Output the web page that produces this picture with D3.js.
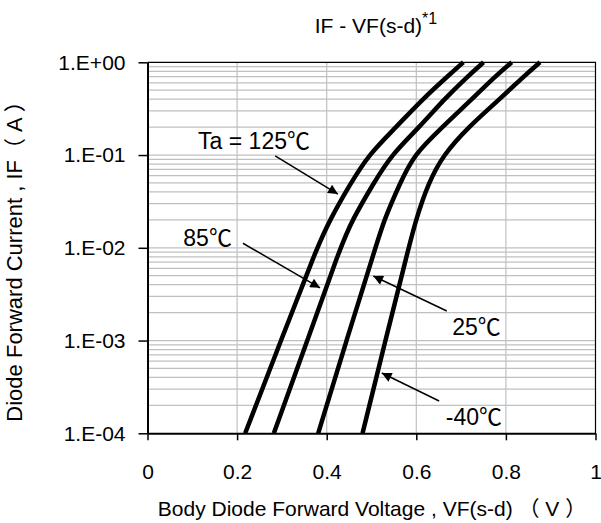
<!DOCTYPE html>
<html>
<head>
<meta charset="utf-8">
<script src="https://cdn.jsdelivr.net/npm/d3@7"></script>
<style>
  body { margin: 0; background: #fff; }
  svg text { font-family: "Liberation Sans", Arial, "Noto Sans CJK JP", sans-serif; fill: #000; }
</style>
</head>
<body>
<svg id="chart" width="601" height="523"></svg>
<script>
// forward current levels (A) shared by all curves
const currents = [1e-4, 1e-3, 1e-2, 0.02, 0.05, 0.1, 0.2, 0.4, 0.7, 1];

// forward voltage (V) at each current level, per temperature
const vf125 = [0.218, 0.298, 0.378, 0.407, 0.454, 0.493, 0.555, 0.614, 0.669, 0.705];
const vf85 = [0.282, 0.357, 0.430, 0.457, 0.505, 0.544, 0.607, 0.662, 0.714, 0.750];
const vf25 = [0.381, 0.444, 0.509, 0.528, 0.564, 0.594, 0.658, 0.724, 0.775, 0.813];
const vfm40 = [0.480, 0.531, 0.583, 0.599, 0.627, 0.660, 0.716, 0.786, 0.839, 0.876];

const xTicks = [0, 0.2, 0.4, 0.6, 0.8, 1];
const xTickLabels = ["0", "0.2", "0.4", "0.6", "0.8", "1"];
const yTicks = [1e-4, 1e-3, 1e-2, 1e-1, 1];
const yTickLabels = ["1.E-04", "1.E-03", "1.E-02", "1.E-01", "1.E+00"];

// label text, label anchor point [V, A], arrow start [V, A], arrow tip [V, A]
const labels = ["Ta = 125℃", "85℃", "25℃", "-40℃"];
const labelPos = [[0.113, 0.115], [0.08, 0.0105], [0.68, 0.00115], [0.666, 0.000124]];
const arrowFrom = [[0.285, 0.098], [0.213, 0.0112], [0.668, 0.00208], [0.651, 0.000223]];
const arrowTo = [[0.425, 0.038], [0.385, 0.0037], [0.504, 0.00496], [0.523, 0.000447]];

const svg = d3.select("#chart");
const plotL = 147.5, plotR = 595.5, plotT = 62.3, plotB = 433.3;

const x = d3.scaleLinear().domain([0, 1]).range([plotL, plotR]);
const y = d3.scaleLog().domain([1e-4, 1]).range([plotB, plotT]);

// grid
const minor = [];
for (let e = -4; e < 0; e++) {
  for (let k = 2; k <= 9; k++) minor.push(k * Math.pow(10, e));
}
const grid = svg.append("g").attr("stroke", "#c0c0c0").attr("stroke-width", 1.2);
grid.selectAll("line.h")
  .data(minor.concat([1e-3, 1e-2, 1e-1]))
  .enter()
  .append("line")
  .attr("x1", plotL).attr("x2", plotR)
  .attr("y1", (d) => y(d)).attr("y2", (d) => y(d));
grid.selectAll("line.v")
  .data([0.2, 0.4, 0.6, 0.8])
  .enter()
  .append("line")
  .attr("x1", (d) => x(d)).attr("x2", (d) => x(d))
  .attr("y1", plotT).attr("y2", plotB);

// plot border (top / right)
svg.append("path")
  .attr("d", `M${plotL},${plotT}H${plotR}V${plotB}`)
  .attr("fill", "none")
  .attr("stroke", "#000")
  .attr("stroke-width", 1.2);

// axes
const xAxis = d3.axisBottom(x)
  .tickValues(xTicks)
  .tickFormat((d, i) => xTickLabels[i])
  .tickSizeInner(7)
  .tickSizeOuter(0)
  .tickPadding(24);
const yAxis = d3.axisLeft(y)
  .tickValues(yTicks)
  .tickFormat((d, i) => yTickLabels[i])
  .tickSizeInner(9)
  .tickSizeOuter(0)
  .tickPadding(13);

const gx = svg.append("g").attr("transform", `translate(0,${plotB})`).call(xAxis);
const gy = svg.append("g").attr("transform", `translate(${plotL},0)`).call(yAxis);
[gx, gy].forEach((g) => {
  g.attr("font-family", null).attr("font-size", null);
  g.select(".domain").attr("stroke", "#000").attr("stroke-width", 2);
  g.selectAll(".tick line").attr("stroke", "#000").attr("stroke-width", 1.5);
  g.selectAll(".tick text").attr("font-size", 21);
});

// curves
const series = [vf125, vf85, vf25, vfm40];
const line = d3.line()
  .x((d) => x(d[0]))
  .y((d) => y(d[1]))
  .curve(d3.curveBasis);

svg.append("g")
  .selectAll("path")
  .data(series)
  .enter()
  .append("path")
  .attr("d", (s) => line(s.map((v, i) => [v, currents[i]])))
  .attr("fill", "none")
  .attr("stroke", "#000")
  .attr("stroke-width", 4.5)
  .attr("stroke-linejoin", "round");

// annotation arrows
svg.append("defs")
  .append("marker")
  .attr("id", "head")
  .attr("viewBox", "0 0 10 10")
  .attr("refX", 10).attr("refY", 5)
  .attr("markerWidth", 7.5).attr("markerHeight", 6.5)
  .attr("markerUnits", "strokeWidth")
  .attr("orient", "auto")
  .append("path")
  .attr("d", "M0,0L10,5L0,10Z")
  .attr("fill", "#000");

svg.append("g")
  .selectAll("line")
  .data(labels)
  .enter()
  .append("line")
  .attr("x1", (d, i) => x(arrowFrom[i][0]))
  .attr("y1", (d, i) => y(arrowFrom[i][1]))
  .attr("x2", (d, i) => x(arrowTo[i][0]))
  .attr("y2", (d, i) => y(arrowTo[i][1]))
  .attr("stroke", "#000")
  .attr("stroke-width", 1.5)
  .attr("marker-end", "url(#head)");

svg.append("g")
  .selectAll("text")
  .data(labels)
  .enter()
  .append("text")
  .attr("x", (d, i) => x(labelPos[i][0]))
  .attr("y", (d, i) => y(labelPos[i][1]))
  .attr("font-size", 23)
  .text((d) => d);

// titles
const title = svg.append("text")
  .attr("x", 376)
  .attr("y", 33)
  .attr("text-anchor", "middle")
  .attr("font-size", 21);
title.append("tspan").text("IF - VF(s-d)");
title.append("tspan").attr("font-size", 16).attr("dy", -9).text("*1");

svg.append("text")
  .attr("x", 372)
  .attr("y", 516)
  .attr("text-anchor", "middle")
  .attr("font-size", 21)
  .text("Body Diode Forward Voltage , VF(s-d) （ V ）");

svg.append("text")
  .attr("transform", "translate(22,256) rotate(-90)")
  .attr("text-anchor", "middle")
  .attr("font-size", 22)
  .text("Diode Forward Current , IF（ A ）");
</script>
</body>
</html>
